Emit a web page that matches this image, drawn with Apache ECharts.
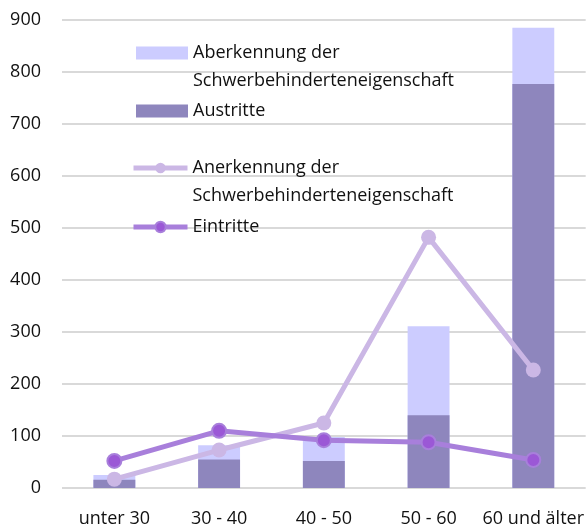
<!DOCTYPE html>
<html>
<head>
<meta charset="utf-8">
<script src="https://cdn.jsdelivr.net/npm/echarts@6/dist/echarts.min.js"></script>
<style>
  html, body { margin: 0; padding: 0; background: #fff; }
  #chart { width: 587px; height: 528px; }
</style>
</head>
<body>
<div id="chart"></div>
<script>
// data
var categories = ['unter 30', '30 - 40', '40 - 50', '50 - 60', '60 und älter'];
var aberkennung = [25, 82, 98, 311, 885];
var austritte = [16, 55, 52, 140, 777];
var anerkennung = [17, 73, 125, 482, 227];
var eintritte = [52, 110, 92, 88, 54];

var nameAberkennung = 'Aberkennung der\nSchwerbehinderteneigenschaft';
var nameAnerkennung = 'Anerkennung der\nSchwerbehinderteneigenschaft';

var font = "'Open Sans', sans-serif";

var chart = echarts.init(document.getElementById('chart'));

// one legend block per entry; two-line names get an empty line on top
// so the icon lines up with the first line of text
function legendBlock(name, left, top, width, isBar, twoLines) {
    var block = {
        data: [name],
        left: left,
        top: top,
        orient: 'vertical',
        itemWidth: width,
        itemHeight: 13,
        itemGap: 0,
        padding: 0,
        selectedMode: false,
        formatter: function (n) { return twoLines ? '\n' + n : n; },
        textStyle: {
            fontFamily: font,
            fontSize: 18,
            color: '#111',
            lineHeight: 28
        }
    };
    if (isBar) {
        block.icon = 'rect';
    } else {
        block.lineStyle = { width: 5 };
    }
    return block;
}

var option = {
    animation: false,
    grid: {
        left: 62,
        right: 1,
        top: 20,
        bottom: 39,
        containLabel: false
    },
    legend: [
        legendBlock(nameAberkennung, 136, 11, 52, true, true),
        legendBlock('Austritte', 136, 97, 52, true, false),
        legendBlock(nameAnerkennung, 131, 126, 54, false, true),
        legendBlock('Eintritte', 131, 213, 54, false, false)
    ],
    xAxis: {
        type: 'category',
        data: categories,
        axisLine: { show: false },
        axisTick: { show: false },
        axisLabel: {
            fontFamily: font,
            fontSize: 18,
            color: '#111',
            margin: 22,
            interval: 0
        }
    },
    yAxis: {
        type: 'value',
        min: 0,
        max: 900,
        interval: 100,
        axisLine: { show: false },
        axisTick: { show: false },
        splitLine: { lineStyle: { color: '#d9d9d9', width: 2 } },
        axisLabel: {
            fontFamily: font,
            fontSize: 18,
            color: '#111',
            margin: 21
        }
    },
    series: [
        {
            name: nameAberkennung,
            type: 'bar',
            data: aberkennung,
            barWidth: '40%',
            barGap: '-100%',
            itemStyle: { color: '#ccccff' }
        },
        {
            name: 'Austritte',
            type: 'bar',
            data: austritte,
            barWidth: '40%',
            itemStyle: { color: '#8e86bd' }
        },
        {
            name: nameAnerkennung,
            type: 'line',
            data: anerkennung,
            symbol: 'circle',
            symbolSize: 15,
            lineStyle: { color: '#cbb7e5', width: 5 },
            itemStyle: { color: '#cbb7e5' }
        },
        {
            name: 'Eintritte',
            type: 'line',
            data: eintritte,
            symbol: 'circle',
            symbolSize: 14,
            lineStyle: { color: '#a87fdb', width: 5 },
            itemStyle: { color: '#9b58d6', borderColor: '#a87fdb', borderWidth: 2 }
        }
    ]
};

chart.setOption(option);
</script>
</body>
</html>
